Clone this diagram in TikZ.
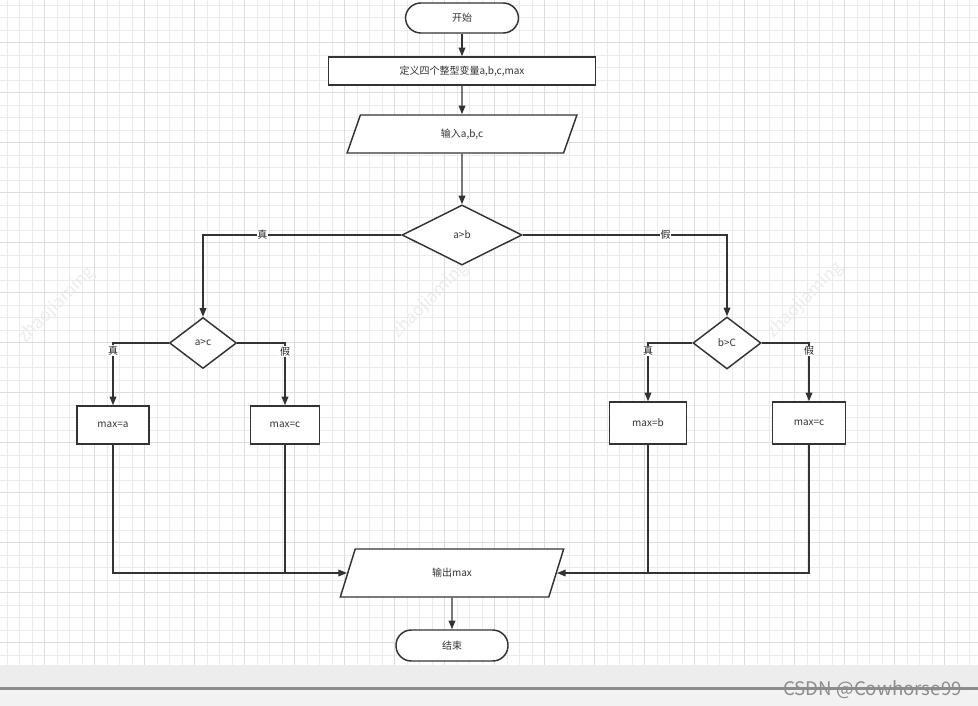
\documentclass[tikz,border=0pt]{standalone}
\usepackage{fontspec}
\setmainfont{Noto Sans CJK SC}
\usetikzlibrary{shapes.geometric,arrows.meta}
\newlength\pxu
\setlength\pxu{0.75pt}
\definecolor{lineclr}{HTML}{333333}
\definecolor{gridminor}{HTML}{EBEBEB}
\definecolor{gridmajor}{HTML}{DDDDDD}
\tikzset{
  base/.style={draw=lineclr, line width=1.1pt, fill=white, font=\fontsize{7.5}{9}\selectfont, text=black!80, inner sep=0pt},
  termbox/.style={base, rectangle, rounded corners=11.5pt, minimum width=113\pxu, minimum height=30\pxu},
  procbox/.style={base, rectangle, minimum width=#1},
  iobox/.style={base, trapezium, trapezium stretches=true},
  decbox/.style={base, diamond},
  arr/.style={draw=lineclr, line width=1.1pt, -{Triangle[length=6.5pt,width=5pt]}},
  joinline/.style={draw=lineclr, line width=1.1pt},
  lbl/.style={fill=white, inner sep=0.5pt, font=\fontsize{7.5}{9}\selectfont, text=black!85},
  wm/.style={text=black!7, font=\fontsize{13}{14}\selectfont, rotate=45}
}
\begin{document}
\begin{tikzpicture}[x=0.75pt, y=-0.75pt]
\useasboundingbox (0,0) rectangle (978,706);
\fill[white] (0,0) rectangle (978,706);
% grid
\begin{scope}
\clip (0,0) rectangle (978,665);
\foreach \i in {0,...,79} {
  \draw[gridminor, line width=0.5pt] ({7+12.5*\i},0) -- ({7+12.5*\i},665);
}
\foreach \j in {0,...,54} {
  \draw[gridminor, line width=0.5pt] (0,{5+12.5*\j}) -- (978,{5+12.5*\j});
}
\foreach \i in {0,...,20} {
  \draw[gridmajor, line width=0.5pt] ({44.5+50*\i},0) -- ({44.5+50*\i},665);
}
\foreach \j in {0,...,14} {
  \draw[gridmajor, line width=0.5pt] (0,{42.5+50*\j}) -- (978,{42.5+50*\j});
}
% watermarks
\node[wm] (wm1) at (57,305) {zhaojiaming};
\node[wm] (wm2) at (430,300) {zhaojiaming};
\node[wm] (wm3) at (805,300) {zhaojiaming};
\end{scope}
% bottom band
\fill[black!7] (0,665) rectangle (978,687);
\fill[black!45] (0,687) rectangle (978,690);
\fill[black!5] (0,690) rectangle (978,706);
\node[text=black!45, font=\fontsize{14}{15}\selectfont, anchor=base east, inner sep=0pt] (csdn) at (962,695) {CSDN @Cowhorse99};

% nodes
\node[termbox] (start) at (462,18) {开始};
\node[procbox=267\pxu, minimum height=28\pxu] (def) at (462,71) {定义四个整型变量a,b,c,max};
\node[iobox, trapezium left angle=75, trapezium right angle=105, minimum width=230\pxu, minimum height=38\pxu] (in) at (462,134) {输入a,b,c};
\node[decbox, minimum width=120\pxu, minimum height=60\pxu] (ab) at (462,235) {a>b};
\node[decbox, minimum width=67\pxu, minimum height=51\pxu] (ac) at (203,343) {a>c};
\node[decbox, minimum width=68\pxu, minimum height=52\pxu] (bc) at (727,343) {b>C};
\node[procbox=72\pxu, minimum height=38\pxu] (maxa) at (113,425) {max=a};
\node[procbox=69\pxu, minimum height=38\pxu] (maxc1) at (285,425) {max=c};
\node[procbox=77\pxu, minimum height=42\pxu] (maxb) at (648,423) {max=b};
\node[procbox=73\pxu, minimum height=42\pxu] (maxc2) at (809,423) {max=c};
\node[iobox, trapezium left angle=71.6, trapezium right angle=108.4, minimum width=224\pxu, minimum height=48\pxu] (out) at (452,573) {输出max};
\node[termbox, minimum width=112\pxu, minimum height=31\pxu] (end) at (452,645.5) {结束};

% connectors
\draw[arr] (start) -- (def);
\draw[arr] (def) -- (in);
\draw[arr] (in) -- (ab);
\draw[arr] (ab.west) -| node[lbl, pos=0.35] {真} (ac.north);
\draw[arr] (ab.east) -| node[lbl, pos=0.35] {假} (bc.north);
\draw[arr] (ac.west) -| node[lbl, pos=0.56] {真} (maxa.north);
\draw[arr] (ac.east) -| node[lbl, pos=0.57] {假} (maxc1.north);
\draw[arr] (bc.west) -| node[lbl, pos=0.57] {真} (maxb.north);
\draw[arr] (bc.east) -| node[lbl, pos=0.57] {假} (maxc2.north);
\draw[arr] (maxa.south) |- (out.west);
\draw[joinline] (maxc1.south) -- (maxc1.south |- out.west);
\draw[arr] (maxc2.south) |- (out.east);
\draw[joinline] (maxb.south) -- (maxb.south |- out.east);
\draw[arr] (out) -- (end);
\end{tikzpicture}
\end{document}
